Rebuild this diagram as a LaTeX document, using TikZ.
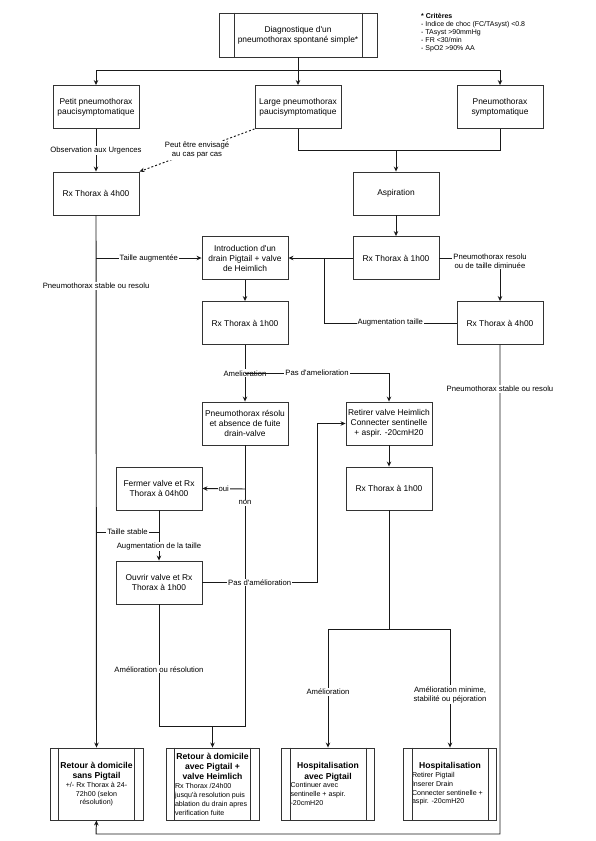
\documentclass[tikz,border=0pt]{standalone}
\usepackage{fontspec}
\setmainfont{Liberation Sans}[Ligatures=TeXOff]
\usetikzlibrary{arrows.meta}
\begin{document}
\begin{tikzpicture}[x=1pt,y=-1pt,
  ln/.style={draw=black!90, line width=0.95pt},
  arr/.style={ln, -{Stealth[length=5pt,width=4.5pt]}},
  box/.style={draw=black!80, line width=0.9pt, fill=white, minimum width=86pt, minimum height=43pt,
    align=center, inner sep=1pt, font=\fontsize{8.4}{10}\selectfont},
  endbox/.style={draw=black!80, line width=0.9pt, fill=white, minimum width=93pt, minimum height=72pt,
    inner sep=0pt},
  inner/.style={draw=black!80, line width=0.9pt},
  lbl/.style={fill=white, inner sep=1pt, align=center, font=\fontsize{7.7}{9.3}\selectfont},
]
\useasboundingbox (0,0) rectangle (595,841);
\newcommand{\ttlf}{\fontsize{8.6}{10.4}\selectfont\bfseries}
\newcommand{\bdyf}{\fontsize{7.1}{8.8}\selectfont\mdseries}

% nodes
\node[box, minimum width=158pt, minimum height=44pt] (diag) at (298,35) {Diagnostique d'un\\pneumothorax spontané simple*};
\draw[inner] ([xshift=16pt]diag.north west) -- ([xshift=16pt]diag.south west);
\draw[inner] ([xshift=-15pt]diag.north east) -- ([xshift=-15pt]diag.south east);

\node[anchor=north west, align=left, inner sep=0pt, font=\fontsize{7}{8}\selectfont] (crit) at (421,13)
  {\textbf{* Critères}\\- Indice de choc (FC/TAsyst) <0.8\\- TAsyst >90mmHg\\- FR <30/min\\- SpO2 >90\% AA};

\node[box] (petit) at (96,107) {Petit pneumothorax\\paucisymptomatique};
\node[box] (large) at (298,107) {Large pneumothorax\\paucisymptomatique};
\node[box] (sympt) at (500,107) {Pneumothorax\\symptomatique};
\node[box] (rx4a) at (96,193.5) {Rx Thorax à 4h00};
\node[box] (asp) at (396,193.5) {Aspiration};
\node[box] (intro) at (245,258) {Introduction d'un\\drain Pigtail + valve\\de Heimlich};
\node[box] (rx1a) at (396,258) {Rx Thorax à 1h00};
\node[box] (rx1b) at (245,323) {Rx Thorax à 1h00};
\node[box] (rx4b) at (500,323) {Rx Thorax à 4h00};
\node[box] (resolu) at (245,423.5) {Pneumothorax résolu\\et absence de fuite\\drain-valve};
\node[box] (retirer) at (389,423.5) {Retirer valve Heimlich\\Connecter sentinelle\\+ aspir. -20cmH20};
\node[box] (fermer) at (159,488.5) {Fermer valve et Rx\\Thorax à 04h00};
\node[box] (rx1c) at (389,488.5) {Rx Thorax à 1h00};
\node[box] (ouvrir) at (159,582.5) {Ouvrir valve et Rx\\Thorax à 1h00};

\node[endbox] (ret1) at (96.5,784) {\parbox{75pt}{\centering\ttlf Retour à domicile\\sans Pigtail\par\bdyf +/- Rx Thorax à 24-\\72h00 (selon\\résolution)}};
\node[endbox] (ret2) at (212.5,784) {\parbox{75pt}{\centering\ttlf Retour à domicile\\avec Pigtail +\\valve Heimlich\par\raggedright\bdyf Rx Thorax /24h00\\jusqu'à resolution puis\\ablation du drain apres\\verification fuite}};
\node[endbox] (hosp1) at (328,784) {\parbox{75pt}{\centering\ttlf Hospitalisation\\avec Pigtail\par\raggedright\bdyf Continuer avec\\sentinelle + aspir.\\-20cmH20}};
\node[endbox] (hosp2) at (450,784) {\parbox{76pt}{\centering\ttlf Hospitalisation\par\raggedright\bdyf Retirer Pigtail\\Inserer Drain\\Connecter sentinelle +\\aspir. -20cmH20}};
\foreach \n in {ret1,ret2,hosp1,hosp2}{
  \draw[inner] ([xshift=9pt]\n.north west) -- ([xshift=9pt]\n.south west);
  \draw[inner] ([xshift=-9pt]\n.north east) -- ([xshift=-9pt]\n.south east);
}

% junctions
\coordinate (j1) at (298,70);
\coordinate (j2) at (396,150);
\coordinate (j3) at (324,258);
\coordinate (j4) at (96,258);
\coordinate (j5) at (245,373);
\coordinate (j6) at (245,489);
\coordinate (j7) at (245,726);
\coordinate (j8) at (212.5,726);
\coordinate (j9) at (159,532);
\coordinate (j10) at (96,532);
\coordinate (j11) at (317,423.5);
\coordinate (j12) at (159,726);
\coordinate (j13) at (389,629);
\coordinate (j14) at (500,834);
\coordinate (j15) at (96,834);

% connectors
\draw[ln] (diag.south) -- (j1);
\draw[arr] (j1) -| (petit.north);
\draw[arr] (j1) -- (large.north);
\draw[arr] (j1) -| (sympt.north);

\draw[ln] (large.south) |- (j2);
\draw[ln] (sympt.south) |- (j2);
\draw[arr] (j2) -- (asp.north);

\draw[arr] (petit.south) -- node[lbl]{Observation aux Urgences} (rx4a.north);
\draw[arr, dash pattern=on 2pt off 2pt] (large.south west) -- node[lbl]{Peut être envisagé\\au cas par cas} (rx4a.north east);

\draw[arr] (asp.south) -- (rx1a.north);
\draw[arr] (rx1a.west) -- (intro.east);
\draw[ln] (rx4b.west) -| node[lbl, pos=0.25]{Augmentation taille} (j3);
\draw[arr] (rx1a.east) -| node[lbl, pos=0.5, xshift=-10pt, yshift=-3pt]{Pneumothorax resolu\\ou de taille diminuée} (rx4b.north);

\draw[arr] (rx4a.south) -- node[lbl, pos=0.133]{Pneumothorax stable ou resolu} (ret1.north);
\draw[arr] (j4) -- node[lbl]{Taille augmentée} (intro.west);

\draw[arr] (intro.south) -- (rx1b.north);
\draw[arr] (rx1b.south) -- node[lbl]{Amelioration} (resolu.north);
\draw[arr] (j5) -| node[lbl, pos=0.25]{Pas d'amelioration} (retirer.north);

\draw[arr] (j6) -- node[lbl]{oui} (fermer.east);
\draw[ln] (resolu.south) -- node[lbl, pos=0.204]{non} (j7) -- (j8);

\draw[arr] (fermer.south) -- node[lbl, pos=0.725]{Augmentation de la taille} (ouvrir.north);
\draw[ln] (j9) -- node[lbl]{Taille stable} (j10);

\draw[arr] (ouvrir.east) -| node[lbl, pos=0.25]{Pas d'amélioration} (j11) -- (retirer.west);
\draw[ln] (ouvrir.south) -- node[lbl, pos=0.533]{Amélioration ou résolution} (j12) -- (j8);
\draw[arr] (j8) -- (ret2.north);

\draw[arr] (retirer.south) -- (rx1c.north);
\draw[ln] (rx1c.south) -- (j13);
\draw[arr] (j13) -| node[lbl, pos=0.765]{Amélioration} (hosp1.north);
\draw[arr] (j13) -| node[lbl, pos=0.777]{Amélioration minime,\\stabilité ou péjoration} (hosp2.north);

\draw[arr] (rx4b.south) -- node[lbl, pos=0.09]{Pneumothorax stable ou resolu} (j14) -- (j15) -- (ret1.south);
\end{tikzpicture}
\end{document}
